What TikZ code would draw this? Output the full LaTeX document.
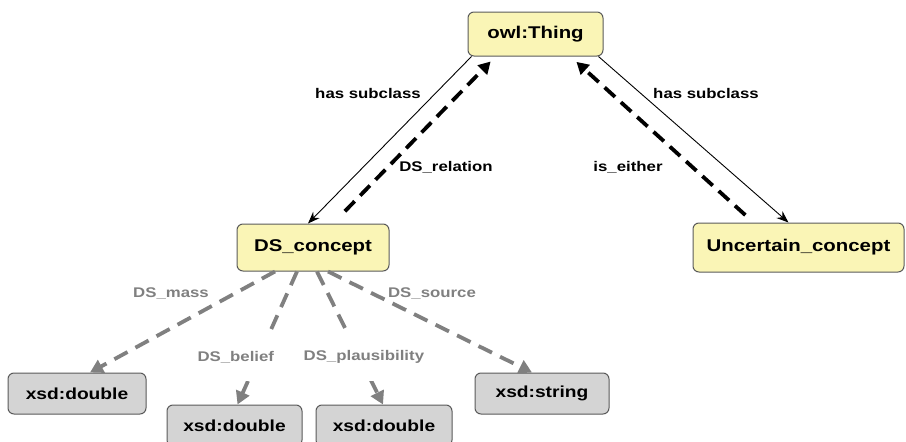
\documentclass[tikz,border=0pt]{standalone}
\usepackage{fontspec}
\setmainfont{Liberation Sans}[FakeStretch=1.2]
\usetikzlibrary{arrows.meta}
\definecolor{clsfill}{RGB}{250,245,182}
\definecolor{dtfill}{RGB}{212,212,212}
\definecolor{edgegray}{RGB}{128,128,128}
\definecolor{boxline}{RGB}{90,90,90}
\begin{document}
\begin{tikzpicture}[x=1pt,y=-1pt,
  cls/.style={draw=boxline, line width=1pt, fill=clsfill, rounded corners=6pt, inner sep=0pt,
    font=\fontsize{17}{20}\selectfont\bfseries},
  dt/.style={draw=boxline, line width=1pt, fill=dtfill, rounded corners=6pt, inner sep=0pt,
    font=\fontsize{16}{19}\selectfont\bfseries},
  sub/.style={line width=0.9pt, -{Stealth[length=12pt,width=9pt]}},
  rel/.style={line width=3.8pt, dash pattern=on 14pt off 8pt, -{Triangle[length=12pt,width=13pt]}},
  prop/.style={line width=3.8pt, draw=edgegray, dash pattern=on 15pt off 9pt,
    -{Triangle[length=13pt,width=14pt]}},
  lbl/.style={font=\fontsize{14}{16}\selectfont\bfseries, inner sep=1pt},
  glbl/.style={lbl, text=edgegray}
]
\useasboundingbox (0,0) rectangle (906,442);

\node[cls, minimum width=135pt, minimum height=44pt] (owl) at (535.5,34) {owl:Thing};
\node[cls, minimum width=152pt, minimum height=47pt] (ds) at (313,247.5) {DS\_concept};
\node[cls, minimum width=211pt, minimum height=49pt] (unc) at (798.5,247.5) {Uncertain\_concept};

\node[dt, minimum width=138pt, minimum height=41pt] (x1) at (77,393.5) {xsd:double};
\node[dt, minimum width=135pt, minimum height=41pt] (x2) at (234.5,425.5) {xsd:double};
\node[dt, minimum width=136pt, minimum height=41pt] (x3) at (384,425.5) {xsd:double};
\node[dt, minimum width=134pt, minimum height=41pt] (xs) at (542,393.5) {xsd:string};

% subclass links
\draw[sub] ([xshift=4pt]owl.south west) -- ([xshift=-5pt]ds.north);
\draw[sub] ([xshift=-5pt]owl.south east) -- ([xshift=-10pt]unc.north);

% object properties
\draw[rel, shorten <=17pt, shorten >=7pt] ([xshift=20pt]ds.north) -- ([xshift=-40pt]owl.south);
\draw[rel, shorten <=11pt, shorten >=8pt] ([xshift=-45pt]unc.north) -- ([xshift=35pt]owl.south);

\node[lbl] (l1) at (368,93) {has subclass};
\node[lbl] (l2) at (446,167) {DS\_relation};
\node[lbl] (l3) at (706,93) {has subclass};
\node[lbl] (l4) at (628,167) {is\_either};

% datatype properties
\draw[prop] ([xshift=-38pt]ds.south) -- ([xshift=13pt]x1.north);
\draw[prop] ([xshift=-16pt]ds.south) -- ([xshift=3pt]x2.north)
  node[glbl, pos=0.642, xshift=-23pt, fill=white, minimum height=48pt] (l6) {DS\_belief};
\draw[prop] ([xshift=4pt]ds.south) -- ([xshift=-1pt]x3.north)
  node[glbl, pos=0.642, xshift=4.5pt, fill=white, minimum height=48pt] (l7) {DS\_plausibility};
\draw[prop] ([xshift=15pt]ds.south) -- ([xshift=-10pt]xs.north);

\node[glbl] (l5) at (171,293) {DS\_mass};
\node[glbl] (l8) at (432,293) {DS\_source};
\end{tikzpicture}
\end{document}
